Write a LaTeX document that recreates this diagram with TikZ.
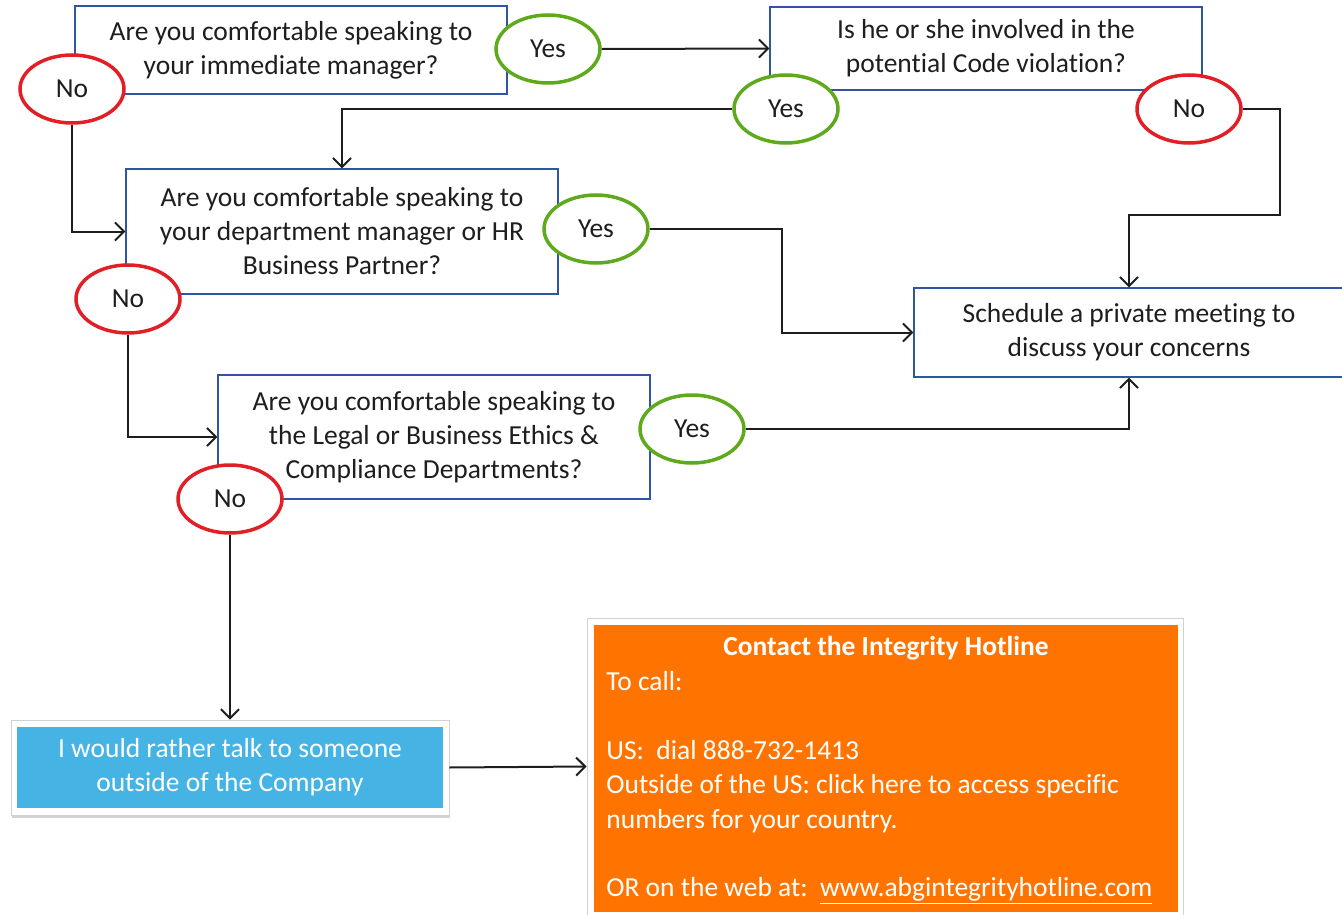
\documentclass[tikz,border=0pt]{standalone}
\usepackage{fontspec}
\setmainfont{Carlito}[Ligatures=NoCommon]
\usetikzlibrary{shapes.geometric,arrows.meta,shadows}

\definecolor{boxblue}{HTML}{2F55A4}
\definecolor{yesgreen}{HTML}{5EA91C}
\definecolor{nored}{HTML}{E21F26}
\definecolor{hotorange}{HTML}{FF7400}
\definecolor{outsideblue}{HTML}{45B4E5}
\definecolor{inkgray}{HTML}{1E1E1E}

\tikzset{every picture/.style={line width=0.75pt}}
\tikzset{
	flowfont/.style={font=\fontsize{27.5}{34}\selectfont},
	question/.style={draw=boxblue, line width=1.2pt, fill=white, minimum width=432pt, align=center, text=inkgray, flowfont},
	yesbubble/.style={ellipse, draw=yesgreen, line width=3.5pt, fill=white, minimum width=104pt, minimum height=68pt, inner sep=0pt, text=inkgray, flowfont},
	nobubble/.style={yesbubble, draw=nored},
	link/.style={draw=inkgray, line width=2pt, -{Straight Barb[length=9pt,width=18pt]}},
	panel/.style={draw=black!18, line width=0.8pt, fill=white, inner sep=0pt},
}

\begin{document}
\begin{tikzpicture}[x=1pt,y=-1pt]
		%\draw [help lines, step=100] (0,0) grid (1342,915);
		\useasboundingbox (0,0) rectangle (1342,915);

		% questions
		\node[question, minimum height=88pt] (q1) at (291,50) {Are you comfortable speaking to\\your immediate manager?};
		\node[question, minimum height=83pt] (q2) at (986,48.5) {Is he or she involved in the\\potential Code violation?};
		\node[question, minimum height=125pt] (q3) at (342,231.5) {Are you comfortable speaking to\\your department manager or HR\\Business Partner?};
		\node[question, minimum height=124pt] (q4) at (434,437) {Are you comfortable speaking to\\the Legal or Business Ethics \&\\Compliance Departments?};
		\node[question, minimum width=430pt, minimum height=89pt] (sched) at (1129,332.5) {Schedule a private meeting to\\discuss your concerns};

		% answers
		\node[yesbubble] (yes1) at (548,49) {Yes};
		\node[nobubble] (no1) at (72,89) {No};
		\node[yesbubble] (yes2) at (786,109) {Yes};
		\node[nobubble] (no2) at (1189,109) {No};
		\node[yesbubble] (yes3) at (596,229) {Yes};
		\node[nobubble] (no3) at (128,299) {No};
		\node[yesbubble] (yes4) at (692,429) {Yes};
		\node[nobubble] (no4) at (230,499) {No};

		% outside the company
		\node[panel, minimum width=438pt, minimum height=95pt, drop shadow={shadow xshift=1pt, shadow yshift=-2.5pt, opacity=0.35},
			path picture={\fill[outsideblue] ([shift={(6pt,-7pt)}]path picture bounding box.north west) rectangle ([shift={(-6pt,7pt)}]path picture bounding box.south east);},
			align=center, text=white, flowfont] (outside) at (230,767.5) {I would rather talk to someone\\outside of the Company};

		\node[panel, minimum width=596pt, minimum height=297pt,
			path picture={\fill[hotorange] ([shift={(7pt,-7pt)}]path picture bounding box.north west) rectangle ([shift={(-5pt,3pt)}]path picture bounding box.south east);}] (hotline) at (885,766.5) {};
		\node[text=white, flowfont] (hottitle) at (886,648) {\bfseries Contact the Integrity Hotline};
		\node[text=white, font=\fontsize{27.5}{34.4}\selectfont, anchor=north west, align=left, inner sep=0pt] (hotbody) at (606,671) {To call:\\ \mbox{}\\ US:\ \ dial 888-732-1413\\ Outside of the US: click here to access specific\\ numbers for your country.\\ \mbox{}\\ OR on the web at:\ \ \underline{www.abgintegrityhotline.com}};

		% connectors
		\coordinate (bend2) at (1280,215);
		\draw[link] (yes1.east) -- (q2.west);
		\draw[link] (yes2.west) -| (q3.north);
		\draw[link] (no2.east) -| (bend2) -| (sched.north);
		\draw[link] (no1.south) |- (q3.west);
		\draw[link] (yes3.east) -- ++(132,0) |- (sched.west);
		\draw[link] (no3.south) |- (q4.west);
		\draw[link] (yes4.east) -| (sched.south);
		\draw[link] (no4.south) -- (outside.north);
		\draw[link] (outside.east) -- (hotline.west);
	\end{tikzpicture}
\end{document}
